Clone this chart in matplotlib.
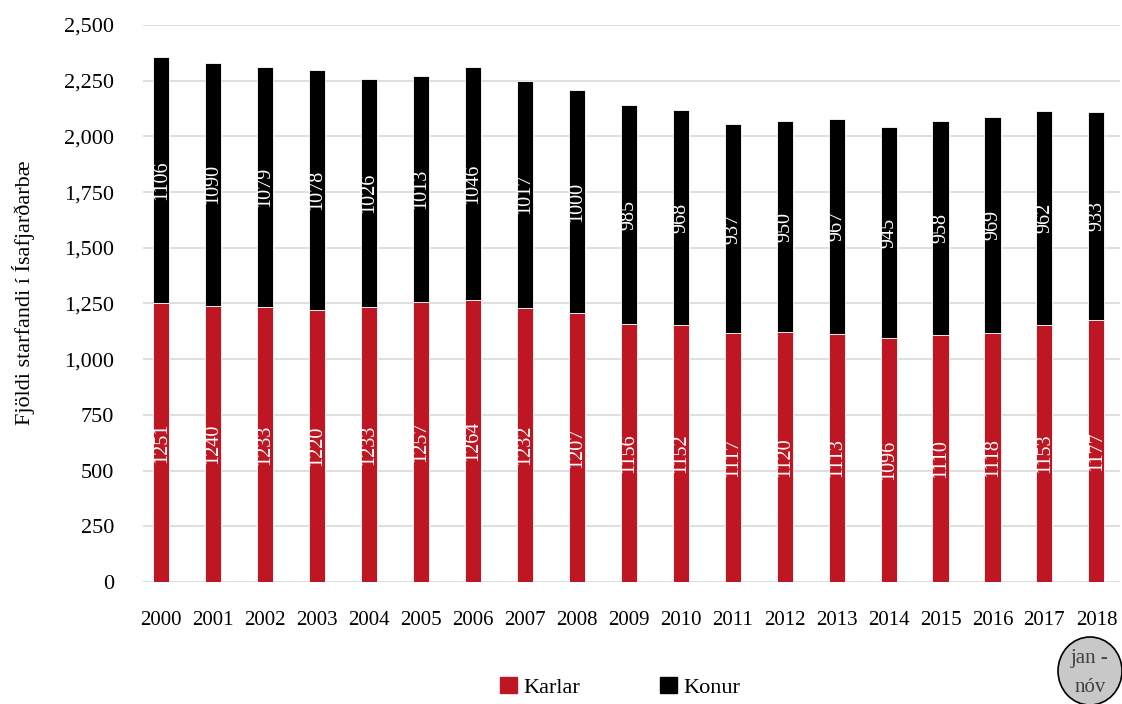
import matplotlib.pyplot as plt
from matplotlib.patches import Ellipse, Patch
from matplotlib.ticker import FuncFormatter

plt.rcParams["font.family"] = ["Liberation Serif", "DejaVu Serif"]

years = [str(y) for y in range(2000, 2019)]
karlar = [1251, 1240, 1233, 1220, 1233, 1257, 1264, 1232, 1207, 1156,
          1152, 1117, 1120, 1113, 1096, 1110, 1118, 1153, 1177]
konur = [1106, 1090, 1079, 1078, 1026, 1013, 1046, 1017, 1000, 985,
         968, 937, 950, 967, 945, 958, 969, 962, 933]

red = "#BE1622"

fig = plt.figure(figsize=(11.22, 7.04), dpi=100)
ax = fig.add_axes([0.1275, 0.1733, 0.8705, 0.7912])

x = range(len(years))
ax.bar(x, karlar, width=0.31, color=red, edgecolor="white", linewidth=0.6, zorder=3)
ax.bar(x, konur, bottom=karlar, width=0.31, color="black", edgecolor="white",
       linewidth=0.6, zorder=3)

for i in x:
    ax.text(i, karlar[i] / 2, str(karlar[i]), rotation=90, ha="center", va="center",
            color="white", fontsize=14.5, zorder=4)
    ax.text(i, karlar[i] + konur[i] / 2, str(konur[i]), rotation=90, ha="center",
            va="center", color="white", fontsize=14.5, zorder=4)

ax.set_ylim(0, 2500)
ax.set_xlim(-0.35, 18.45)
ax.set_yticks(range(0, 2501, 250))
ax.yaxis.set_major_formatter(FuncFormatter(lambda v, p: f"{int(v):,}"))
ax.set_xticks(list(x))
ax.set_xticklabels(years)
ax.tick_params(axis="y", length=0, labelsize=16, pad=21)
ax.tick_params(axis="x", length=0, labelsize=15, pad=21)
ax.grid(axis="y", color="#D9D9D9", linewidth=1.2, zorder=0)
for s in ax.spines.values():
    s.set_visible(False)
ax.set_ylabel("Fjöldi starfandi í Ísafjarðarbæ", fontsize=16)
ax.yaxis.set_label_coords(-0.111, 0.52)

handles = [Patch(color=red, label="Karlar"), Patch(color="black", label="Konur")]
fig.legend(handles=handles, loc="lower center", bbox_to_anchor=(0.553, -0.02), ncol=2,
           frameon=False, fontsize=16, handlelength=0.75, handleheight=0.75,
           handletextpad=0.3, columnspacing=3.6)

circ = Ellipse((1090 / 1122, 1 - 671 / 704), 64 / 1122, 68 / 704,
               transform=fig.transFigure, facecolor="#C8C8C8", edgecolor="black",
               linewidth=1.2, clip_on=False)
fig.patches.append(circ)
fig.text(1090 / 1122, 1 - 673 / 704, "jan -\nnóv", ha="center", va="center",
         fontsize=15, color="#404040", linespacing=1.75)

fig.savefig("out.png", dpi=100)
